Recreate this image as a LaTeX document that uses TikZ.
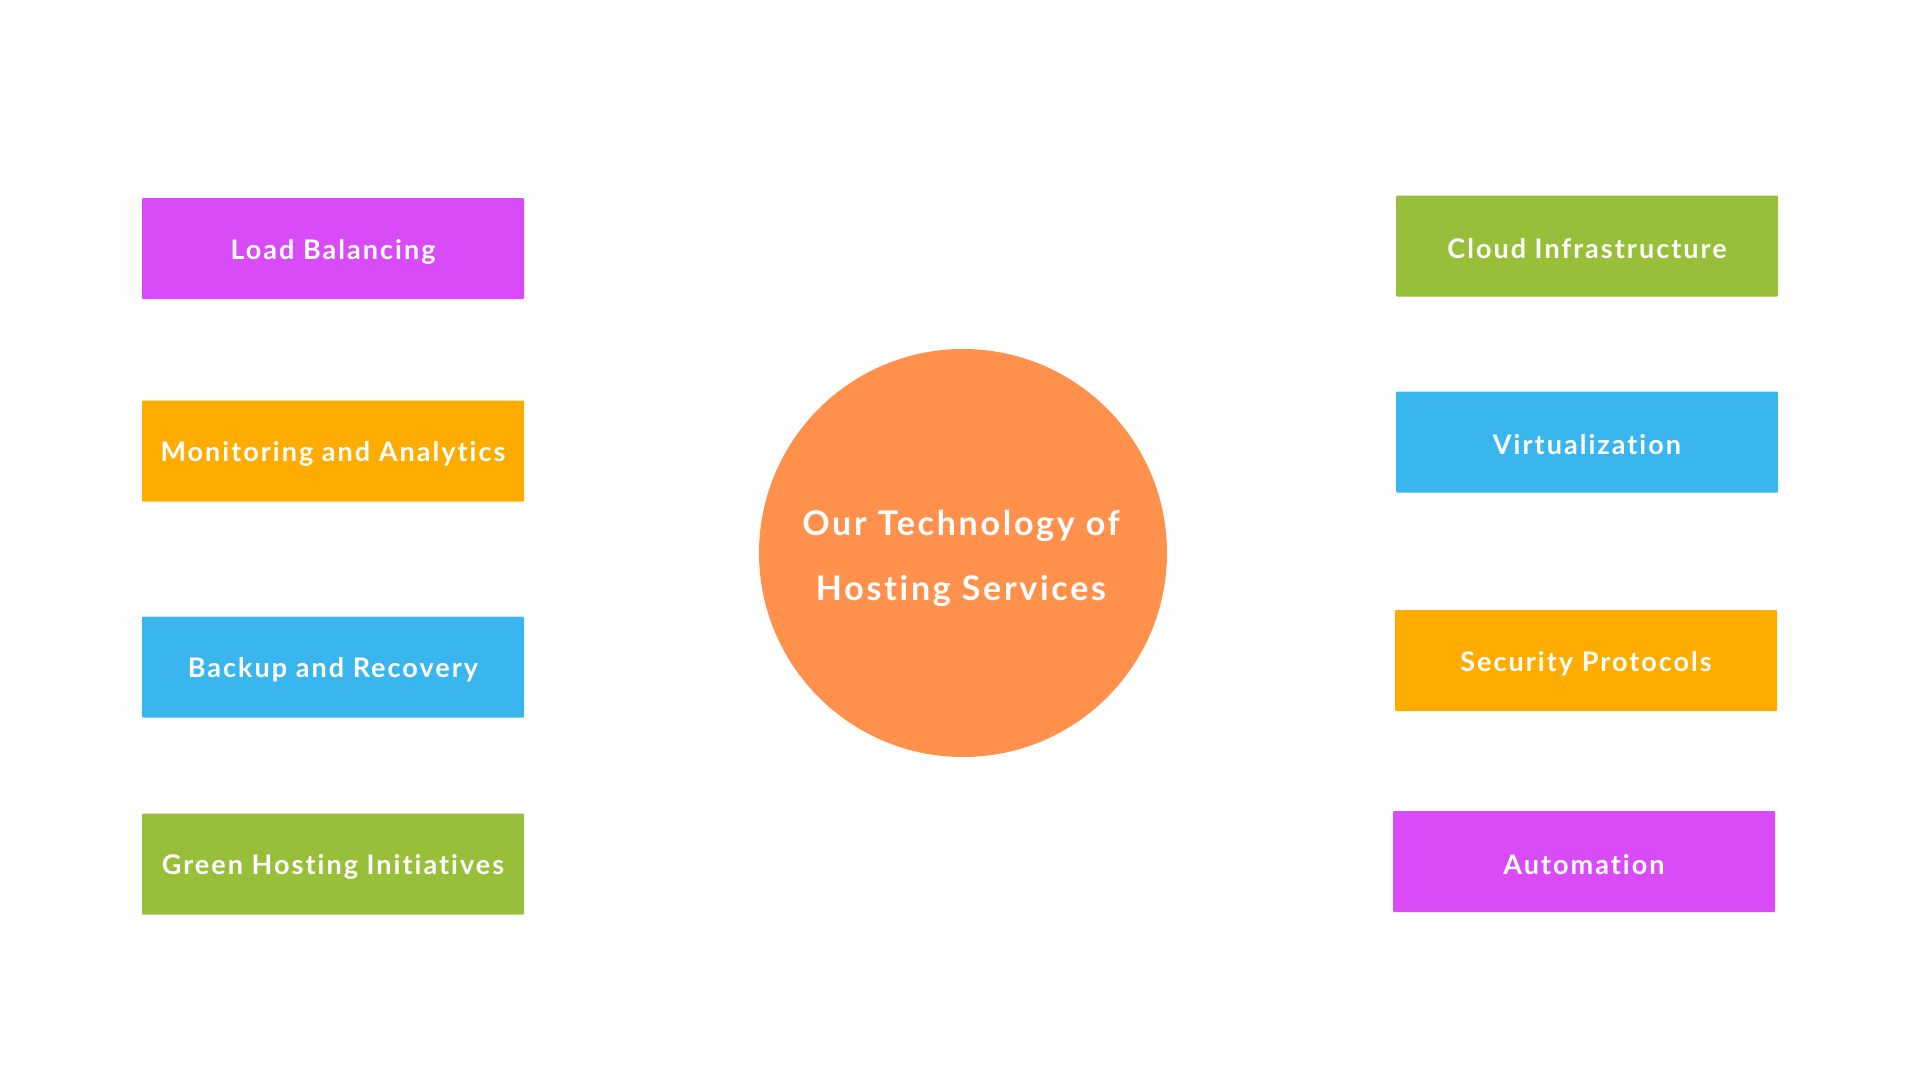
\documentclass[tikz,border=0pt]{standalone}
\usepackage{fontspec}
\setmainfont{Lato}[BoldFont={Lato Bold}, Ligatures={NoCommon}]
\usepackage{tikz}

\definecolor{boxpink}{HTML}{DA4BF8}
\definecolor{boxamber}{HTML}{FEAD00}
\definecolor{boxblue}{HTML}{3AB6EF}
\definecolor{boxgreen}{HTML}{97BF39}
\definecolor{hubfill}{HTML}{FF914D}

\tikzset{
  techbox/.style={rectangle, rounded corners=1pt, minimum width=382pt, minimum height=101pt,
    inner sep=0pt},
  techlabel/.style={text=white, inner sep=0pt, yshift=-3pt,
    font=\fontsize{27}{30}\selectfont\bfseries\addfontfeature{LetterSpace=7.5}},
  hub/.style={circle, fill=hubfill, minimum size=408pt, inner sep=0pt},
  hublabel/.style={text=white, align=center, inner sep=0pt, yshift=-5pt,
    font=\fontsize{34}{65}\selectfont\bfseries\addfontfeature{LetterSpace=8}}
}

\begin{document}
\begin{tikzpicture}[x=1pt, y=-1pt]
            \useasboundingbox (0,0) rectangle (1920,1080);

            \node[hub] (core) at (963,553) {};
            \node[hublabel] (coretext) at ([xshift=-2pt]core.center) {Our Technology of\\Hosting Services};

            \node[techbox, fill=boxpink] (load) at (333,248.5) {};
            \node[techbox, fill=boxamber] (monitor) at (333,451) {};
            \node[techbox, fill=boxblue] (backup) at (333,667) {};
            \node[techbox, fill=boxgreen] (green) at (333,864) {};

            \node[techbox, fill=boxgreen] (cloud) at (1587,246) {};
            \node[techbox, fill=boxblue] (virtual) at (1587,442) {};
            \node[techbox, fill=boxamber] (secure) at (1586,660.5) {};
            \node[techbox, fill=boxpink] (auto) at (1584,861.5) {};

            % labels sit a bit low in the boxes
            \node[techlabel] at (load) {Load Balancing};
            \node[techlabel] at (monitor) {Monitoring and Analytics};
            \node[techlabel] at (backup) {Backup and Recovery};
            \node[techlabel] at (green) {Green Hosting Initiatives};
            \node[techlabel] at (cloud) {Cloud Infrastructure};
            \node[techlabel] at (virtual) {Virtualization};
            \node[techlabel] at (secure) {Security Protocols};
            \node[techlabel] at (auto) {Automation};
        \end{tikzpicture}
\end{document}
